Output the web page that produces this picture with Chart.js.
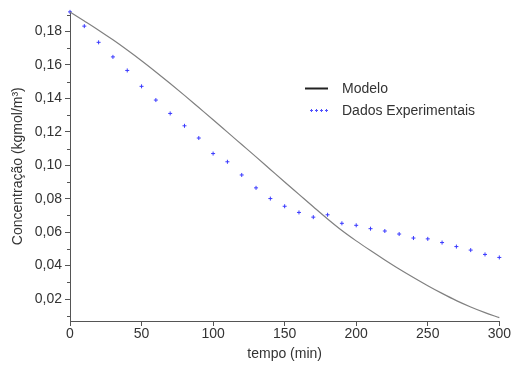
<!DOCTYPE html>
<html>
<head>
<meta charset="utf-8">
<script src="https://cdn.jsdelivr.net/npm/chart.js@4/dist/chart.umd.min.js"></script>
<style>
html,body{margin:0;padding:0;background:#fff;}
#wrap{width:511px;height:366px;}
</style>
</head>
<body>
<div id="wrap"><canvas id="c" width="511" height="366"></canvas></div>
<script>
const tempo = [0,10,20,30,40,50,60,70,80,90,100,110,120,130,140,150,160,170,180,190,200,210,220,230,240,250,260,270,280,290,300];
const modelo = [0.1917,0.1863,0.1808,0.1750,0.1689,0.1625,0.1558,0.1489,0.1418,0.1345,0.1272,0.1198,0.1124,0.1050,0.0975,0.0900,0.0826,0.0752,0.0679,0.0610,0.0548,0.0490,0.0434,0.0380,0.0329,0.0280,0.0234,0.0191,0.0153,0.0119,0.0089];
const dados = [0.1917,0.1832,0.1735,0.1648,0.1567,0.1472,0.1390,0.1310,0.1236,0.1163,0.1070,0.1021,0.0942,0.0865,0.0801,0.0755,0.0718,0.0690,0.0704,0.0653,0.0641,0.0621,0.0607,0.0589,0.0565,0.0560,0.0538,0.0514,0.0493,0.0467,0.0449];
const xTicks = [0,50,100,150,200,250,300];
const yTicks = [0.02,0.04,0.06,0.08,0.10,0.12,0.14,0.16,0.18];
const yMinorTicks = [0.01,0.03,0.05,0.07,0.09,0.11,0.13,0.15,0.17,0.19];
const seriesNames = ['Modelo','Dados Experimentais'];

const FONT = '"Liberation Sans", Arial, sans-serif';

const extrasPlugin = {
  id: 'extras',
  afterDraw(chart) {
    const ctx = chart.ctx;
    const ys = chart.scales.y;
    ctx.save();
    // minor ticks on y axis
    ctx.strokeStyle = '#555';
    ctx.lineWidth = 1;
    yMinorTicks.forEach(v => {
      const py = Math.round(ys.getPixelForValue(v)) + 0.5;
      ctx.beginPath(); ctx.moveTo(ys.right - 3, py); ctx.lineTo(ys.right, py); ctx.stroke();
    });
    // legend
    ctx.font = '14px ' + FONT;
    ctx.fillStyle = '#333';
    ctx.textBaseline = 'middle';
    ctx.strokeStyle = '#222';
    ctx.lineWidth = 2;
    ctx.beginPath(); ctx.moveTo(305, 88.5); ctx.lineTo(328, 88.5); ctx.stroke();
    ctx.fillText(seriesNames[0], 342, 89.5);
    ctx.strokeStyle = '#5050ff';
    ctx.lineWidth = 1;
    for (let i = 0; i < 4; i++) {
      const cx = 311.5 + i * 5;
      ctx.beginPath();
      ctx.moveTo(cx - 1.5, 110.5); ctx.lineTo(cx + 1.5, 110.5);
      ctx.moveTo(cx, 109); ctx.lineTo(cx, 112);
      ctx.stroke();
    }
    ctx.fillText(seriesNames[1], 342, 111.5);
    ctx.restore();
  }
};

new Chart(document.getElementById('c'), {
  type: 'scatter',
  data: {
    datasets: [
      {
        label: seriesNames[0],
        data: tempo.map((t, i) => ({x: t, y: modelo[i]})),
        showLine: true,
        borderColor: '#808080',
        borderWidth: 1.2,
        pointRadius: 0,
        cubicInterpolationMode: 'monotone',
        fill: false,
        clip: false
      },
      {
        label: seriesNames[1],
        data: tempo.map((t, i) => ({x: t, y: dados[i]})),
        showLine: false,
        pointStyle: 'cross',
        pointRadius: 2,
        borderColor: '#3a3aff',
        backgroundColor: '#3a3aff',
        pointBorderWidth: 1,
        clip: false
      }
    ]
  },
  options: {
    responsive: false,
    animation: false,
    devicePixelRatio: 1,
    layout: {padding: {top: 8, right: 11, left: 0, bottom: 0}},
    plugins: {legend: {display: false}, tooltip: {enabled: false}},
    scales: {
      x: {
        type: 'linear',
        min: 0, max: 300,
        afterBuildTicks: s => { s.ticks = xTicks.map(v => ({value: v})); },
        afterFit: s => { s.height = 45; },
        border: {display: true, color: '#555', width: 1},
        grid: {display: true, drawOnChartArea: false, drawTicks: true, tickLength: 5, tickColor: '#555'},
        ticks: {
          color: '#333', padding: 0,
          font: {family: FONT, size: 14},
          maxRotation: 0,
          callback: v => String(v)
        },
        title: {display: true, text: 'tempo (min)', color: '#333', font: {family: FONT, size: 14}, padding: {top: 0, bottom: 3}}
      },
      y: {
        type: 'linear',
        min: 0.0069, max: 0.192,
        afterBuildTicks: s => { s.ticks = yTicks.map(v => ({value: v})); },
        afterFit: s => { s.width = 70; },
        border: {display: true, color: '#555', width: 1},
        grid: {display: true, drawOnChartArea: false, drawTicks: true, tickLength: 5, tickColor: '#555'},
        ticks: {
          color: '#333', padding: 3,
          font: {family: FONT, size: 14},
          autoSkip: false,
          callback: v => v.toFixed(2).replace('.', ',')
        },
        title: {display: true, text: 'Concentração (kgmol/m³)', color: '#333', font: {family: FONT, size: 14}, padding: {top: 10, bottom: 0}}
      }
    }
  },
  plugins: [extrasPlugin]
});
</script>
</body>
</html>
